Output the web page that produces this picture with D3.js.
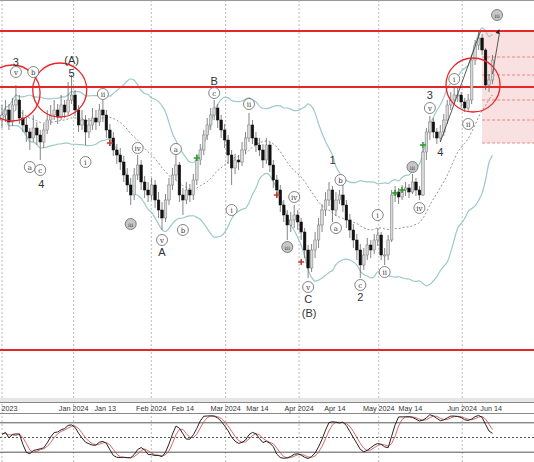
<!DOCTYPE html>
<html><head><meta charset="utf-8">
<script src="https://cdn.jsdelivr.net/npm/d3@7"></script>
<style>body{margin:0;background:#fff}svg{display:block}</style>
</head><body>
<script>
// price data (daily bars), open = previous close
const firstOpen = 280;
const closes = [285,290,278,295,300,282,275,268,262,272,265,258,270,280,285,290,283,295,288,300,305,
  290,275,280,268,275,282,278,290,285,270,262,250,245,238,225,215,205,225,235,218,210,205,215,200,190,182,
  200,215,225,235,205,200,210,205,220,240,250,265,275,285,292,280,270,260,245,232,240,238,250,262,275,
  262,255,250,240,255,235,220,210,195,185,175,180,185,178,168,150,132,150,160,175,190,200,210,190,200,205,
  195,180,170,160,150,135,145,155,150,160,165,145,145,160,205,208,203,210,212,208,218,210,205,248,268,278,
  268,262,268,280,295,300,305,305,298,292,300,340,355,362,350,315,320,340];
const highs = [295,300,296,302,315,305,290,282,272,285,278,270,276,290,295,300,296,305,300,318,325,
  310,295,290,285,282,292,290,296,300,290,276,268,256,252,244,232,222,232,245,240,224,218,222,220,208,198,
  206,222,232,245,238,212,218,216,226,246,256,270,282,292,300,296,285,276,265,250,246,245,258,268,287,
  280,268,262,256,262,258,240,225,215,200,190,188,195,190,182,172,155,156,168,182,196,208,218,214,208,210,
  218,200,186,176,166,156,152,162,160,166,172,168,152,165,210,214,212,215,218,216,226,222,214,252,272,284,
  282,272,275,286,300,308,312,314,308,302,306,345,360,368,366,352,326,345];
const lows = [272,278,270,274,290,276,268,258,250,258,255,240,252,266,275,280,276,280,282,285,296,
  284,268,270,255,262,270,270,274,278,262,254,244,236,230,218,208,195,200,220,210,202,198,200,192,182,170,
  178,195,210,220,198,185,196,198,200,215,235,245,260,270,280,272,262,252,236,215,226,230,234,246,258,
  256,248,244,232,236,228,212,202,188,178,160,168,172,170,160,142,122,128,142,152,168,184,194,178,184,196,
  188,172,162,152,140,122,130,140,142,146,154,140,135,140,158,198,196,200,204,202,206,204,200,204,240,260,
  262,256,258,264,276,290,296,298,292,288,288,296,335,350,345,310,308,316];

// levels and zone
const redLevels = [369, 313, 50];
const zoneTop = 369, zoneBottom = 257;
const zoneLines = [343, 325, 300, 280, 257];

// x-axis ticks [label, bar index]
const tickLabels = ["Dec 2023","Jan 2024","Jan 13","Feb 2024","Feb 14","Mar 2024","Mar 14","Apr 2024","Apr 14","May 2024","May 14","Jun 2024","Jun 14"];
const tickIndex = [0,20.6,29.7,42.9,52,64.3,73.4,85.4,95.7,108.3,117.4,132.3,140.6];
const monthTick = [true,true,false,true,false,true,false,true,false,true,false,true,false];

// wave labels: [text, bar index, price, style] style: w = white circle, g = gray circle, t = plain text
const waveText = ["v","3","b","a","c","4","(A)","5","i","ii","iii","iv","v","A","a","b","c","B","i","ii",
  "iii","iv","v","C","(B)","1","a","b","c","2","i","ii","iii","iv","v","3","4","i","ii","iii"];
const waveIdx = [4,4,9,8,11,11.3,20,20,24,29,37,39,46,46,50,52,61,61,66,71,
  82,84,88,88,88.3,95,96,97.3,103,103,108,110,118,120,123,123,126,130,134,142.3];
const wavePrice = [328,338,328,233,230,216,340,327,238,306,176,252,160,148,251,170,307,319,190,296,
  153,203,113,101,87,240,172,220,115,103,185,128,233,192,292,305,248,321,276,385];
const waveStyle = ["w","t","w","w","w","t","t","t","w","w","g","w","w","t","w","w","w","t","w","w",
  "g","w","w","t","t","t","w","w","w","t","w","w","g","w","w","t","t","w","w","g"];

// signal markers [bar index, price]
const greenIdx = [56, 113, 115, 121], greenPrice = [242, 207, 210, 255];
const redIdx = [31, 79, 86], redPrice = [257, 205, 138];

const W = 534, H = 462;
const svg = d3.select("body").append("svg").attr("width", W).attr("height", H)
  .style("font-family", "Liberation Sans, Arial, sans-serif");

const x = d3.scaleLinear().domain([0, 141]).range([2, 492.5]);
const y = d3.scaleLinear().domain([0, 400]).range([400, 0]);
const yS = d3.scaleLinear().domain([0, 100]).range([462, 413]);

const opens = closes.map((c, i) => i === 0 ? firstOpen : closes[i - 1]);
const bars = closes.map((c, i) => ({i, o: opens[i], h: highs[i], l: lows[i], c}));

// Bollinger 20,2
const bb = bars.map((b, i) => {
  const w = closes.slice(Math.max(0, i - 19), i + 1);
  const m = d3.mean(w), sd = Math.sqrt(d3.mean(w, v => (v - m) * (v - m)));
  return {i, m, u: m + 2 * sd, lo: m - 2 * sd};
});

// Stochastic 14,3,3
const rawK = bars.map((b, i) => {
  const s = Math.max(0, i - 13);
  const hh = d3.max(highs.slice(s, i + 1)), ll = d3.min(lows.slice(s, i + 1));
  return hh === ll ? 50 : 100 * (b.c - ll) / (hh - ll);
});
const sma = (arr, n) => arr.map((v, i) => d3.mean(arr.slice(Math.max(0, i - n + 1), i + 1)));
const kLine = sma(rawK, 3), dLine = sma(kLine, 3);

// top border
svg.append("line").attr("x1", 0).attr("x2", W).attr("y1", 0.5).attr("y2", 0.5).attr("stroke", "#999");

// pink zone
svg.append("rect").attr("x", x(138)).attr("y", y(zoneTop)).attr("width", W - x(138))
  .attr("height", y(zoneBottom) - y(zoneTop)).attr("fill", "#f9dada").attr("opacity", 0.8);
svg.selectAll(".zl").data(zoneLines).enter().append("line")
  .attr("x1", x(138)).attr("x2", W).attr("y1", d => y(d)).attr("y2", d => y(d))
  .attr("stroke", "#e06060").attr("stroke-dasharray", "3,2").attr("stroke-width", 0.7);

// vertical month grid
const ticks = tickLabels.map((t, k) => ({t, i: tickIndex[k], m: monthTick[k]}));
svg.selectAll(".vg").data(ticks.filter(d => d.m)).enter().append("line")
  .attr("x1", d => x(d.i)).attr("x2", d => x(d.i)).attr("y1", 0).attr("y2", H)
  .attr("stroke", "#aaa").attr("stroke-dasharray", "2,2").attr("stroke-width", 0.8);

// Bollinger bands
const bandLine = key => d3.line().x(d => x(d.i)).y(d => y(d[key])).curve(d3.curveMonotoneX);
svg.append("path").datum(bb).attr("d", bandLine("u")).attr("fill", "none").attr("stroke", "#9cc9c9").attr("stroke-width", 1.2);
svg.append("path").datum(bb).attr("d", bandLine("lo")).attr("fill", "none").attr("stroke", "#9cc9c9").attr("stroke-width", 1.2);
svg.append("path").datum(bb).attr("d", bandLine("m")).attr("fill", "none").attr("stroke", "#777").attr("stroke-width", 0.8).attr("stroke-dasharray", "2,2");

// red levels
svg.selectAll(".rl").data(redLevels).enter().append("line")
  .attr("x1", 0).attr("x2", W).attr("y1", d => y(d)).attr("y2", d => y(d))
  .attr("stroke", "#e8262a").attr("stroke-width", 2);

// candles
const cw = 2.6;
svg.selectAll(".wick").data(bars).enter().append("line")
  .attr("x1", d => x(d.i)).attr("x2", d => x(d.i)).attr("y1", d => y(d.h)).attr("y2", d => y(d.l))
  .attr("stroke", "#666").attr("stroke-width", 0.8);
svg.selectAll(".body").data(bars).enter().append("rect")
  .attr("x", d => x(d.i) - cw / 2).attr("width", cw)
  .attr("y", d => y(Math.max(d.o, d.c))).attr("height", d => Math.max(1, Math.abs(y(d.o) - y(d.c))))
  .attr("fill", d => d.c >= d.o ? "#d8d8d8" : "#111").attr("stroke", d => d.c >= d.o ? "#777" : "#111").attr("stroke-width", 0.5);

// markers
const cross = (xs, ps, col) => xs.forEach((xi, k) => {
  const cx = x(xi), cy = y(ps[k]);
  svg.append("path").attr("d", `M${cx - 3},${cy}H${cx + 3}M${cx},${cy - 3}V${cy + 3}`).attr("stroke", col).attr("stroke-width", 1.5);
});
cross(greenIdx, greenPrice, "#2a9a2a");
cross(redIdx, redPrice, "#c0392b");

// trend lines and arrow
svg.append("line").attr("x1", x(126)).attr("y1", y(258)).attr("x2", x(137.5)).attr("y2", y(368)).attr("stroke", "#333").attr("stroke-width", 0.8);
svg.append("line").attr("x1", x(141)).attr("y1", y(326)).attr("x2", x(143)).attr("y2", y(367)).attr("stroke", "#333").attr("stroke-width", 0.8);
svg.append("path").attr("d", `M${x(143)},${y(371)}l-4,4l4,1z`).attr("fill", "#222");

// red circles
const circ = [[2.9, 307, 28], [16.6, 310, 27], [135.4, 315, 27]];
svg.selectAll(".rc").data(circ).enter().append("circle")
  .attr("cx", d => x(d[0])).attr("cy", d => y(d[1])).attr("r", d => d[2])
  .attr("fill", "none").attr("stroke", "#e8262a").attr("stroke-width", 1.3);

// wave labels
waveText.forEach((t, k) => {
  const cx = x(waveIdx[k]), cy = y(wavePrice[k]), s = waveStyle[k];
  if (s === "t") {
    svg.append("text").attr("x", cx).attr("y", cy + 4).attr("text-anchor", "middle")
      .attr("font-size", 11).attr("fill", "#333").text(t);
  } else {
    svg.append("circle").attr("cx", cx).attr("cy", cy).attr("r", 5.5)
      .attr("fill", s === "g" ? "#c8c8c8" : "#fff").attr("stroke", "#666").attr("stroke-width", 0.8);
    svg.append("text").attr("x", cx).attr("y", cy + 2.5).attr("text-anchor", "middle")
      .attr("font-family", "DejaVu Serif, serif").attr("font-size", t.length > 2 ? 5.5 : 7).attr("fill", "#333").text(t);
  }
});

// axis strip
svg.append("rect").attr("x", 0).attr("y", 398).attr("width", W).attr("height", 4).attr("fill", "#e6e6e6");
svg.append("line").attr("x1", 0).attr("x2", W).attr("y1", 402.5).attr("y2", 402.5).attr("stroke", "#888");
svg.append("line").attr("x1", 0).attr("x2", W).attr("y1", 413.5).attr("y2", 413.5).attr("stroke", "#888");
svg.selectAll(".tl").data(ticks).enter().append("text")
  .attr("x", d => x(d.i)).attr("y", 411).attr("text-anchor", "middle")
  .attr("font-size", 7.2).attr("fill", "#333").text(d => d.t);

// stochastic panel
[80, 20].forEach(v => svg.append("line").attr("x1", 0).attr("x2", W).attr("y1", yS(v)).attr("y2", yS(v)).attr("stroke", "#555"));
svg.append("line").attr("x1", 0).attr("x2", W).attr("y1", yS(50)).attr("y2", yS(50)).attr("stroke", "#555").attr("stroke-dasharray", "2,2");
const sl = d3.line().x((d, i) => x(i)).y(d => yS(d));
svg.append("path").datum(dLine).attr("d", sl).attr("fill", "none").attr("stroke", "#d04040").attr("stroke-width", 0.8);
svg.append("path").datum(kLine).attr("d", sl).attr("fill", "none").attr("stroke", "#222").attr("stroke-width", 1);
</script>
</body></html>
